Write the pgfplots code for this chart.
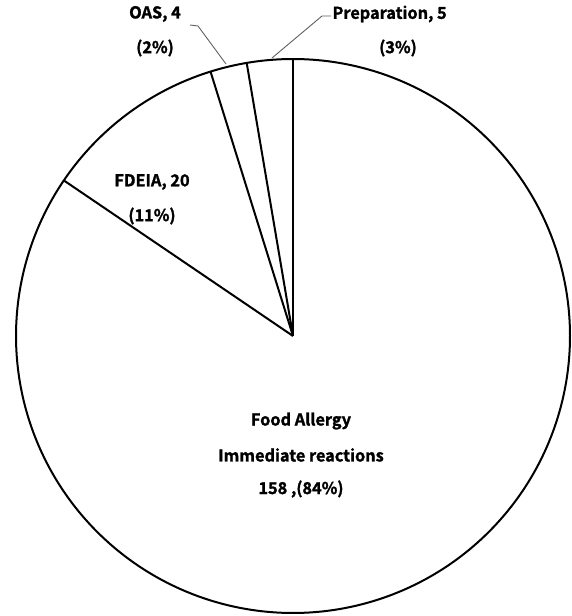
\documentclass[border=0pt]{standalone}
\usepackage{fontspec}
\setmainfont{Noto Sans CJK JP}[BoldFont={Noto Sans CJK JP Bold}, BoldFeatures={FakeBold=1.5}]
\usepackage{pgfplots}
\pgfplotsset{compat=1.18}
\usepackage{pgfplotstable}
\pgfplotstableread{
label count
Preparation 5
OAS 4
FDEIA 20
FoodAllergy 158
}\piedata
\begin{document}
\begin{tikzpicture}
\pgfplotstablegetelem{0}{count}\of\piedata \let\vA\pgfplotsretval
\pgfplotstablegetelem{1}{count}\of\piedata \let\vB\pgfplotsretval
\pgfplotstablegetelem{2}{count}\of\piedata \let\vC\pgfplotsretval
\pgfplotstablegetelem{3}{count}\of\piedata \let\vD\pgfplotsretval
\pgfmathsetmacro\total{\vA+\vB+\vC+\vD}
\def\cx{293}\def\cy{280}\def\rr{277}
\pgfmathsetmacro\aA{90+360*\vA/\total}
\pgfmathsetmacro\aB{\aA+360*\vB/\total}
\pgfmathsetmacro\aC{\aB+360*\vC/\total}
\pgfmathsetmacro\xZ{\cx+\rr*cos(90)}\pgfmathsetmacro\yZ{\cy+\rr*sin(90)}
\pgfmathsetmacro\xA{\cx+\rr*cos(\aA)}\pgfmathsetmacro\yA{\cy+\rr*sin(\aA)}
\pgfmathsetmacro\xB{\cx+\rr*cos(\aB)}\pgfmathsetmacro\yB{\cy+\rr*sin(\aB)}
\pgfmathsetmacro\xC{\cx+\rr*cos(\aC)}\pgfmathsetmacro\yC{\cy+\rr*sin(\aC)}
\begin{axis}[
  scale only axis, width=572pt, height=616pt,
  xmin=0, xmax=572, ymin=0, ymax=616,
  hide axis, clip=false,
]
\path (axis cs:0,0) rectangle (axis cs:572,616);
% outline
\addplot[black, line width=2pt, domain=0:360, samples=240, smooth]
  ({\cx+\rr*cos(x)}, {\cy+\rr*sin(x)});
% slice boundaries
\addplot[black, line width=2pt] coordinates {(\cx,\cy) (\xZ,\yZ)};
\addplot[black, line width=2pt] coordinates {(\cx,\cy) (\xA,\yA)};
\addplot[black, line width=2pt] coordinates {(\cx,\cy) (\xB,\yB)};
\addplot[black, line width=2pt] coordinates {(\cx,\cy) (\xC,\yC)};
% leader lines
\addplot[gray!75!black, line width=0.9pt] coordinates {(190,591) (198,590) (226,552)};
\addplot[gray!75!black, line width=0.9pt] coordinates {(331,600) (322,600) (272,558)};
% labels
\begin{scope}[font=\fontsize{16.3}{19}\selectfont\bfseries]
\node at (axis cs:155,602) {OAS, 4};
\node at (axis cs:155,568) {(2\%)};
\node[anchor=west] at (axis cs:329,602) {Preparation, 5};
\node at (axis cs:398,568) {(3\%)};
\node at (axis cs:152,434) {FDEIA, 20};
\node at (axis cs:152,400) {(11\%)};
\node at (axis cs:301,195) {Food Allergy};
\node at (axis cs:301,161) {Immediate reactions};
\node at (axis cs:301,127) {158 ,(84\%)};
\end{scope}
\end{axis}
\end{tikzpicture}
\end{document}
